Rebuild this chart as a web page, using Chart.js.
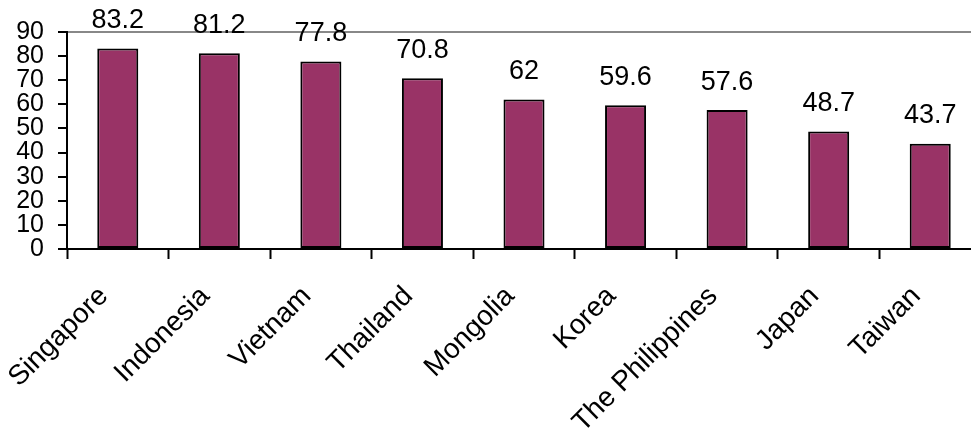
<!DOCTYPE html>
<html>
<head>
<meta charset="utf-8">
<script src="https://cdn.jsdelivr.net/npm/chart.js@4/dist/chart.umd.min.js"></script>
<style>
  html, body { margin: 0; padding: 0; background: #fff; overflow: hidden; width: 971px; height: 434px; }
  canvas { display: block; }
</style>
</head>
<body>
<canvas id="c" width="981" height="434"></canvas>
<script>
const categories = ["Singapore", "Indonesia", "Vietnam", "Thailand", "Mongolia", "Korea", "The Philippines", "Japan", "Taiwan"];
const values = [83.2, 81.2, 77.8, 70.8, 62, 59.6, 57.6, 48.7, 43.7];
const valueLabels = ["83.2", "81.2", "77.8", "70.8", "62", "59.6", "57.6", "48.7", "43.7"];
const yMin = 0, yMax = 90, yStep = 10;

const FONT = "'Liberation Sans', Arial, sans-serif";

const valueLabelPlugin = {
  id: 'valueLabels',
  afterDatasetsDraw(chart) {
    const ctx = chart.ctx;
    const meta = chart.getDatasetMeta(0);
    ctx.save();
    ctx.font = "27px " + FONT;
    ctx.fillStyle = "#000";
    ctx.textAlign = "center";
    ctx.textBaseline = "alphabetic";
    meta.data.forEach((bar, i) => {
      ctx.fillText(valueLabels[i], bar.x, bar.y - 20.5);
    });
    ctx.restore();
  }
};

new Chart(document.getElementById('c'), {
  type: 'bar',
  data: {
    labels: categories,
    datasets: [{
      data: values,
      backgroundColor: '#993366',
      borderColor: '#000000',
      borderWidth: 2,
      borderSkipped: false,
      barPercentage: 0.404,
      categoryPercentage: 1.0
    }]
  },
  options: {
    responsive: false,
    animation: false,
    devicePixelRatio: 1,
    layout: { padding: { top: 32, right: 0, left: 0, bottom: 0 } },
    plugins: { legend: { display: false }, tooltip: { enabled: false } },
    scales: {
      x: {
        offset: true,
        grid: {
          display: true,
          offset: true,
          color: 'rgba(0,0,0,0)',
          tickColor: '#000',
          tickLength: 10,
          tickWidth: 2,
          drawOnChartArea: false
        },
        border: { display: true, color: '#000', width: 2 },
        ticks: {
          color: '#000',
          font: { family: FONT, size: 28 },
          minRotation: 45,
          maxRotation: 45,
          padding: 21,
          labelOffset: -14,
          autoSkip: false
        },
        afterFit(scale) { scale.height = 185; }
      },
      y: {
        min: yMin,
        max: yMax,
        ticks: {
          stepSize: yStep,
          color: '#000',
          font: { family: FONT, size: 25 },
          padding: 14,
          autoSkip: false
        },
        grid: {
          color: (c) => (c.tick && c.tick.value === yMax) ? '#888888' : 'rgba(0,0,0,0)',
          lineWidth: 2,
          tickColor: '#000',
          tickLength: 9,
          tickWidth: 2
        },
        border: { display: true, color: '#000', width: 2 },
        afterFit(scale) { scale.width = 67; }
      }
    }
  },
  plugins: [valueLabelPlugin]
});
</script>
</body>
</html>
